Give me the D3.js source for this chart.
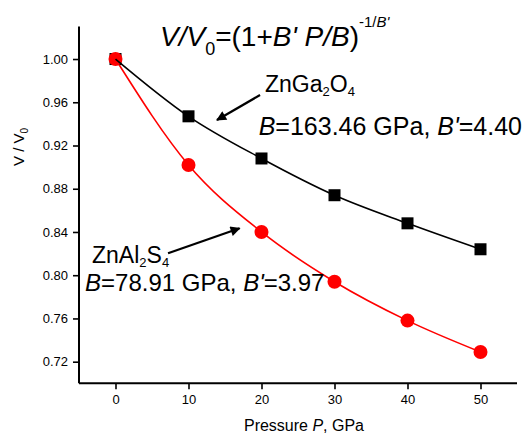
<!DOCTYPE html>
<html>
<head>
<meta charset="utf-8">
<script src="https://cdn.jsdelivr.net/npm/d3@7"></script>
<style>
  html, body { margin: 0; padding: 0; background: #fff; }
  svg { display: block; font-family: "Liberation Sans", Arial, Helvetica, sans-serif; }
</style>
</head>
<body>
<svg id="chart" width="527" height="433"></svg>
<script>
// Pressure points (GPa) and relative volumes
const pressure = [0, 10, 20, 30, 40, 50];
const znGa2O4 = [1.000, 0.947, 0.908, 0.874, 0.848, 0.824];
const znAl2S4 = [1.000, 0.902, 0.840, 0.794, 0.758, 0.729];

// Axis ticks
const xMajorTicks = [0, 10, 20, 30, 40, 50];
const xMinorTicks = [-5, 5, 15, 25, 35, 45, 55];
const yMajorTicks = [0.72, 0.76, 0.80, 0.84, 0.88, 0.92, 0.96, 1.00];
const yMinorTicks = [0.70, 0.74, 0.78, 0.82, 0.86, 0.90, 0.94, 0.98, 1.02];

// Annotation arrows in data units: [tailP, tailV, tipP, tipV]
const arrowGa = [19.8, 0.9667, 13.9, 0.9436];
const arrowAl = [7.2, 0.8203, 17.0, 0.8434];

const svg = d3.select("#chart");

const x = d3.scaleLinear().domain([-5, 55]).range([79, 517]);
const y = d3.scaleLinear().domain([0.70, 1.03]).range([383.3, 26.6]);

// Arrow head marker
const defs = svg.append("defs");
defs.append("marker")
  .attr("id", "arrowhead")
  .attr("viewBox", "0 0 10 10")
  .attr("refX", 9).attr("refY", 5)
  .attr("markerUnits", "userSpaceOnUse")
  .attr("markerWidth", 13).attr("markerHeight", 10)
  .attr("orient", "auto")
  .append("path")
  .attr("d", "M0,0 L10,5 L0,10 Z")
  .attr("fill", "#000");

// Axes
const xAxis = d3.axisBottom(x).tickValues(xMajorTicks).tickSize(6).tickPadding(5)
  .tickFormat(d3.format("d"));
const xAxisMinor = d3.axisBottom(x).tickValues(xMinorTicks).tickSize(3).tickFormat("");
const yAxis = d3.axisLeft(y).tickValues(yMajorTicks).tickSize(6).tickPadding(5)
  .tickFormat(d3.format(".2f"));
const yAxisMinor = d3.axisLeft(y).tickValues(yMinorTicks).tickSize(3).tickFormat("");

const gx = svg.append("g").attr("transform", `translate(0,${y(0.70)})`);
gx.call(xAxisMinor);
gx.call(xAxis);
const gy = svg.append("g").attr("transform", `translate(${x(-5)},0)`);
gy.call(yAxisMinor);
gy.call(yAxis);

[gx, gy].forEach(g => {
  g.selectAll(".domain").attr("stroke", "#000").attr("stroke-width", 2);
  g.selectAll(".tick line").attr("stroke", "#000").attr("stroke-width", 1.6);
  g.selectAll(".tick text").attr("fill", "#000").attr("font-size", 13)
    .attr("font-family", "Liberation Sans, Arial, sans-serif");
});
gx.selectAll(".domain").attr("d", `M${x(-5)},0H${x(55)}`);
gy.selectAll(".domain").attr("d", `M0,${y(0.70)}V${y(1.03)}`);

// Axis titles
svg.append("text")
  .attr("x", 304).attr("y", 431)
  .attr("text-anchor", "middle")
  .attr("font-size", 16)
  .call(t => {
    t.append("tspan").text("Pressure ");
    t.append("tspan").attr("font-style", "italic").text("P");
    t.append("tspan").text(", GPa");
  });

svg.append("text")
  .attr("transform", "translate(24,147) rotate(-90)")
  .attr("text-anchor", "middle")
  .attr("font-size", 15)
  .call(t => {
    t.append("tspan").text("V / V");
    t.append("tspan").attr("font-size", 10).attr("dy", 4).text("0");
  });

// Series
const line = d3.line()
  .x((d, i) => x(pressure[i]))
  .y(d => y(d))
  .curve(d3.curveMonotoneX);

svg.append("path")
  .datum(znAl2S4)
  .attr("d", line)
  .attr("fill", "none")
  .attr("stroke", "#ff0000")
  .attr("stroke-width", 1.6);

const sq = 12;
svg.append("g").selectAll("rect")
  .data(znGa2O4)
  .join("rect")
  .attr("x", (d, i) => x(pressure[i]) - sq / 2)
  .attr("y", d => y(d) - sq / 2)
  .attr("width", sq).attr("height", sq)
  .attr("fill", "#000");

svg.append("g").selectAll("circle")
  .data(znAl2S4)
  .join("circle")
  .attr("cx", (d, i) => x(pressure[i]))
  .attr("cy", d => y(d))
  .attr("r", 7)
  .attr("fill", "#ff0000");

svg.append("path")
  .datum(znGa2O4)
  .attr("d", line)
  .attr("fill", "none")
  .attr("stroke", "#000")
  .attr("stroke-width", 1.6);

// Annotation arrows
[arrowGa, arrowAl].forEach(a => {
  svg.append("line")
    .attr("x1", x(a[0])).attr("y1", y(a[1]))
    .attr("x2", x(a[2])).attr("y2", y(a[3]))
    .attr("stroke", "#000")
    .attr("stroke-width", 2.2)
    .attr("marker-end", "url(#arrowhead)");
});

// Equation of state
svg.append("text")
  .attr("x", 160).attr("y", 46)
  .attr("font-size", 28)
  .call(t => {
    t.append("tspan").attr("font-style", "italic").text("V/V");
    t.append("tspan").attr("font-size", 18).attr("dy", 9).text("0");
    t.append("tspan").attr("dy", -9).text("=(1+");
    t.append("tspan").attr("font-style", "italic").text("B' P/B");
    t.append("tspan").text(")");
    t.append("tspan").attr("font-size", 15).attr("dy", -19).text("-1/");
    t.append("tspan").attr("font-size", 15).attr("font-style", "italic").text("B'");
  });

// Compound labels
function formula(g, xPos, yPos, parts) {
  const t = g.append("text").attr("x", xPos).attr("y", yPos).attr("font-size", 23);
  let shift = 0;
  parts.forEach(p => {
    const sub = /^[0-9]$/.test(p);
    const target = sub ? 4 : 0;
    t.append("tspan")
      .attr("font-size", sub ? 13 : 23)
      .attr("dy", target - shift)
      .text(p);
    shift = target;
  });
}
formula(svg, 265, 92, ["ZnGa", "2", "O", "4"]);
formula(svg, 92, 263, ["ZnAl", "2", "S", "4"]);

function params(g, xPos, yPos, anchor, size, bulk, deriv) {
  g.append("text")
    .attr("x", xPos).attr("y", yPos)
    .attr("text-anchor", anchor)
    .attr("font-size", size)
    .call(t => {
      t.append("tspan").attr("font-style", "italic").text("B");
      t.append("tspan").text(`=${bulk} GPa, `);
      t.append("tspan").attr("font-style", "italic").text("B'");
      t.append("tspan").text(`=${deriv}`);
    });
}
params(svg, 522, 135, "end", 25, "163.46", "4.40");
params(svg, 85, 291, "start", 24, "78.91", "3.97");
</script>
</body>
</html>
